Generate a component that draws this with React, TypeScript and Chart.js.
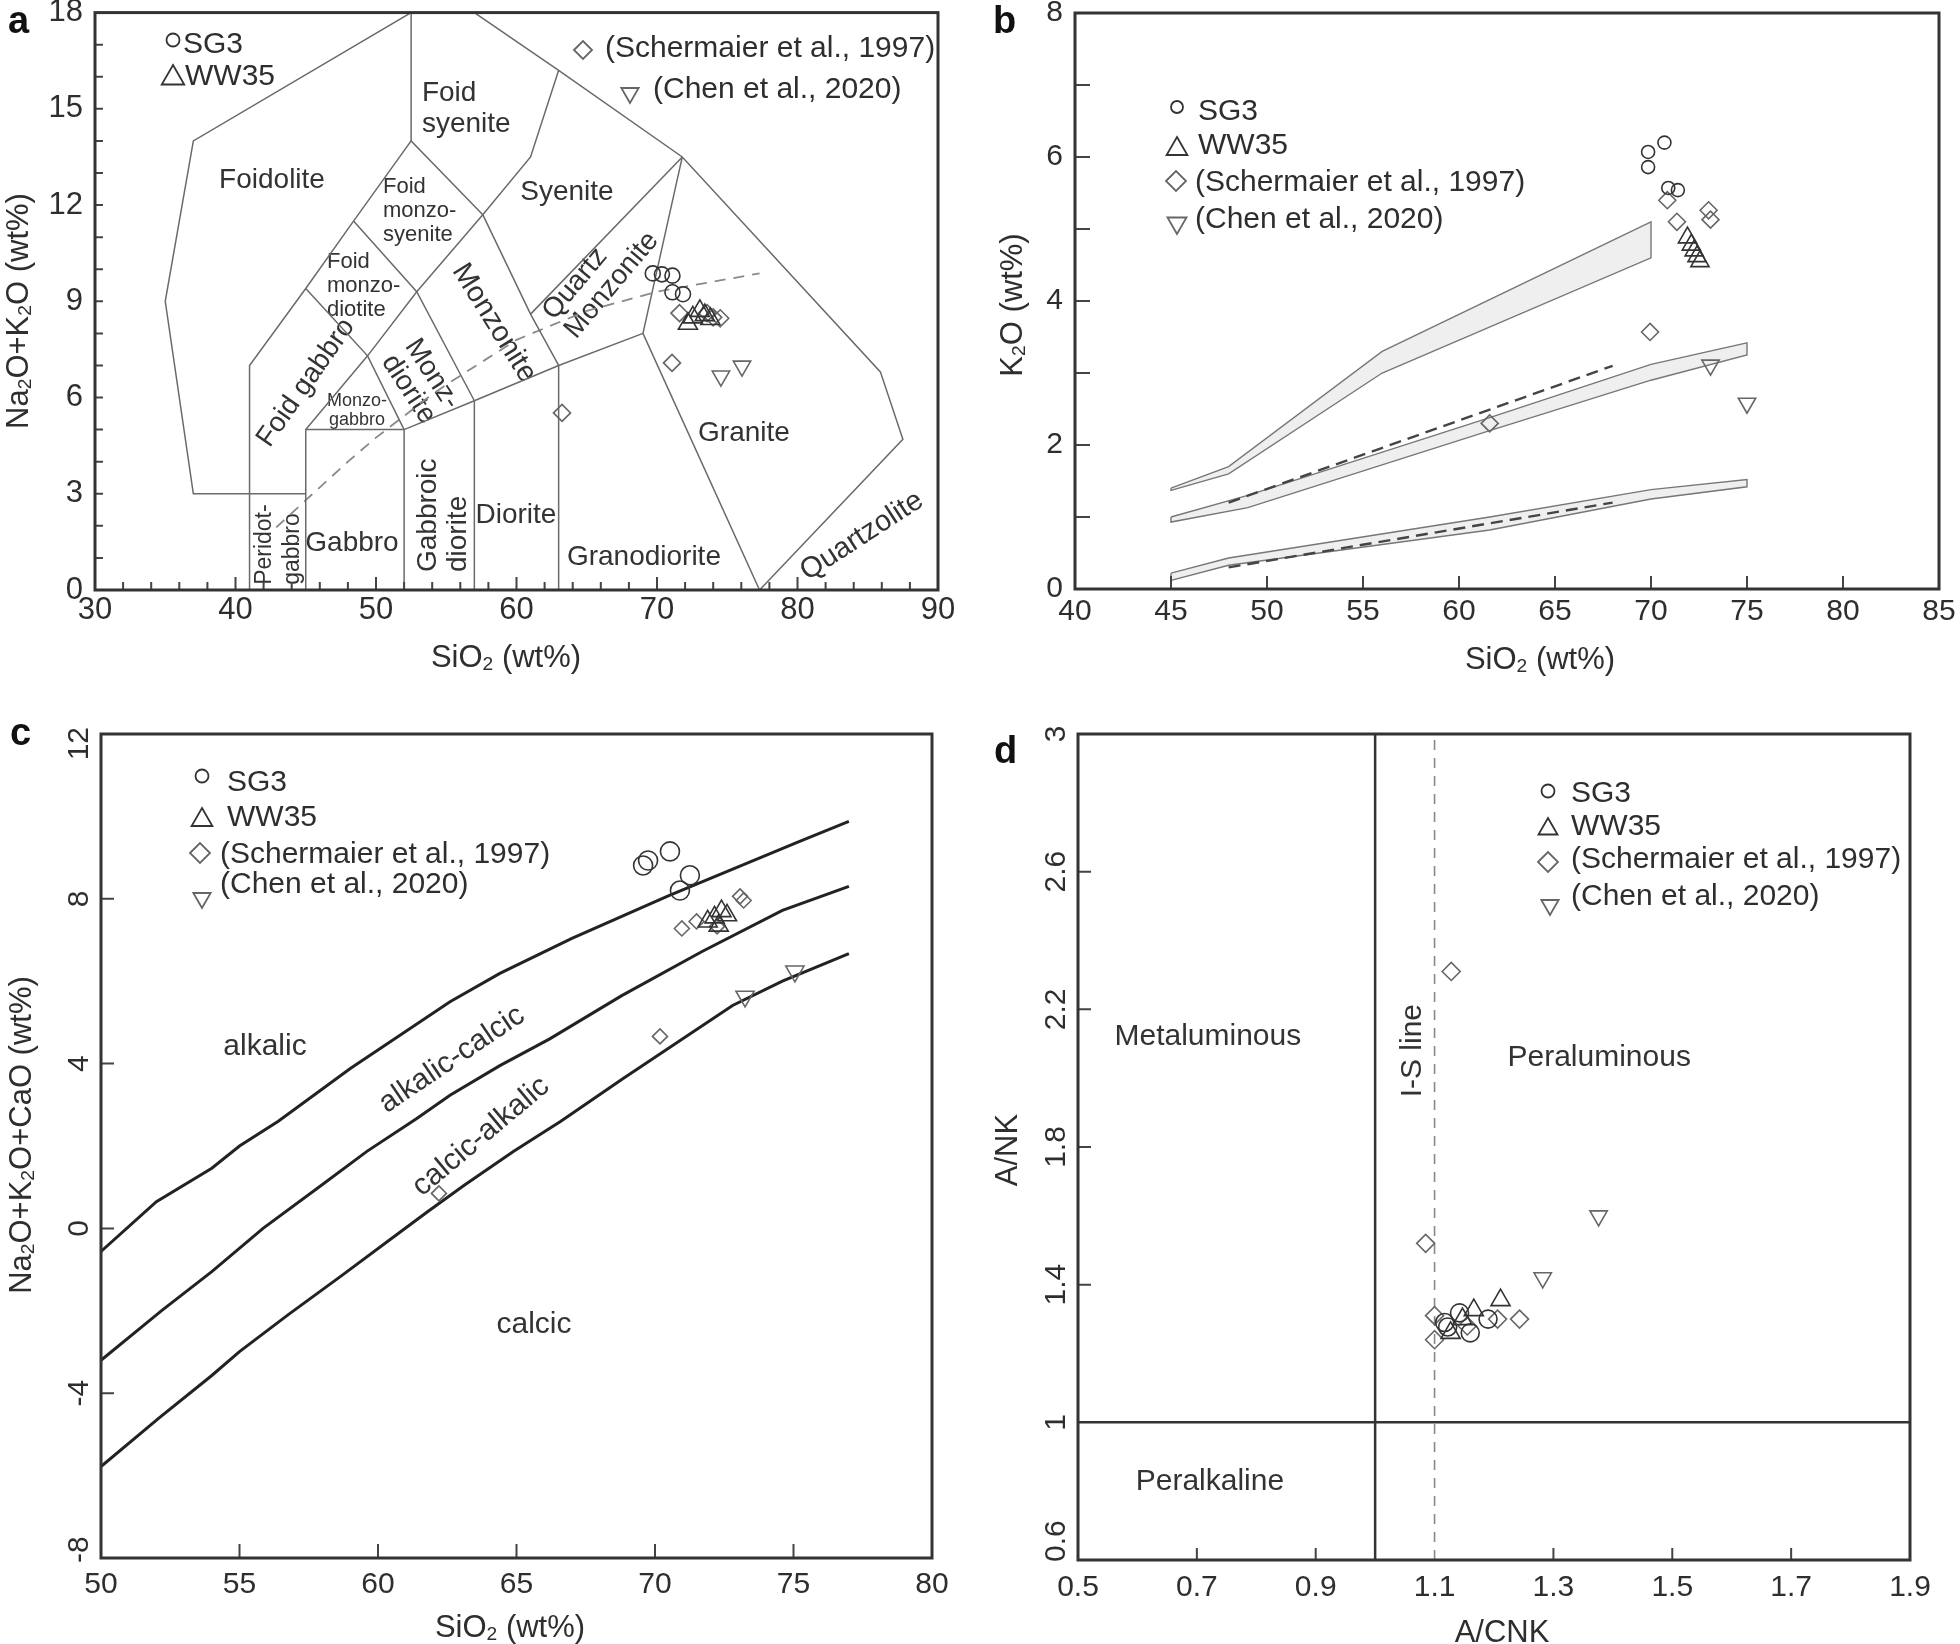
import React, { useEffect, useRef } from 'react';
import { Chart, registerables } from 'chart.js';
import { drawPoint } from 'chart.js/helpers';

Chart.register(...registerables);

const FONT = '"Liberation Sans", Arial, Helvetica, sans-serif';
const TXT = '#2e2e2e';

// ---------------- Panel a: TAS (Middlemost) ----------------
const aFoidolite = [[45, 3], [37, 3], [35, 9], [37, 14], [52.5, 18]];
const aFoidSyeniteLeft = [[52.5, 18], [52.5, 14]];
const aOuterTop = [[57, 18], [63, 16.2], [71.8, 13.5], [85.9, 6.8], [87.5, 4.7], [77.3, 0]];
const aFoidSyeniteRight = [[63, 16.2], [61, 13.5], [57.6, 11.7]];
const aFoidMonzoTop = [[57.6, 11.7], [52.5, 14], [48.4, 11.5], [45, 9.4], [41, 7], [41, 0]];
const aDiagonal1 = [[57.6, 11.7], [52.9, 9.3], [49.4, 7.3], [45, 5], [45, 0]];
const aDiagonal2 = [[48.4, 11.5], [52.9, 9.3], [57, 5.9]];
const aDiagonal3 = [[45, 9.4], [49.4, 7.3], [52, 5]];
const aGabbroTop = [[45, 5], [52, 5], [52, 0]];
const aLowerBoundary = [[52, 5], [57, 5.9], [63, 7], [69, 8]];
const aDioriteRight = [[57, 5.9], [57, 0]];
const aGranodioriteLeft = [[63, 7], [63, 0]];
const aSyeniteBottom = [[57.6, 11.7], [61, 8.6], [63, 7]];
const aQzMonzTop = [[61, 8.6], [71.8, 13.5]];
const aGraniteLeft = [[71.8, 13.5], [69, 8], [77.3, 0]];
const aAlkalineLine = [[42.9, 1.95], [45, 2.8], [48, 4], [50, 4.75], [53.7, 6], [55, 6.4], [60, 7.8], [65, 8.7], [70, 9.3], [77.3, 9.87]];

const aSG3 = [[69.7, 9.87], [70.35, 9.84], [71.1, 9.8], [71.1, 9.28], [71.85, 9.22]];
const aWW35 = [[72.2, 8.3], [72.55, 8.5], [73.05, 8.7], [73.4, 8.57], [73.8, 8.45]];
const aSch = [[71.6, 8.63], [73.56, 8.63], [74.0, 8.5], [74.5, 8.47], [71.07, 7.08], [63.24, 5.52]];
const aChen = [[74.55, 6.67], [76.05, 6.98]];

const aXLabels = [30, 40, 50, 60, 70, 80, 90];
const aYLabels = [0, 3, 6, 9, 12, 15, 18];
const aXMajorTicks = [40, 50, 60, 70, 80];
const aXMinorTicks = [32, 34, 36, 38, 42, 44, 46, 48, 52, 54, 56, 58, 62, 64, 66, 68, 72, 74, 76, 78, 82, 84, 86, 88];
const aYTicks = [1, 2, 3, 4, 5, 6, 7, 8, 9, 10, 11, 12, 13, 14, 15, 16, 17];

// ---------------- Panel b: K2O vs SiO2 ----------------
const bHighUpper = [[45, 1.4], [48, 1.7], [56, 3.3], [70, 5.1]];
const bHighLower = [[45, 1.37], [48, 1.6], [56, 3.0], [70, 4.6]];
const bMidUpper = [[45, 1.0], [49, 1.3], [61.6, 2.38], [70, 3.12], [75, 3.42]];
const bMidLower = [[45, 0.93], [49, 1.13], [61.6, 2.2], [70, 2.9], [75, 3.25]];
const bLowUpper = [[45, 0.22], [48, 0.43], [61.6, 1.0], [70, 1.38], [75, 1.52]];
const bLowLower = [[45, 0.12], [48, 0.33], [61.6, 0.82], [70, 1.25], [75, 1.42]];
const bDash1 = [[48, 1.2], [68, 3.1]];
const bDash2 = [[48, 0.3], [68, 1.2]];

const bSG3 = [[69.85, 6.07], [70.7, 6.2], [69.85, 5.86], [70.9, 5.57], [71.4, 5.54]];
const bWW35 = [[71.9, 4.88], [72.1, 4.78], [72.25, 4.7], [72.4, 4.62], [72.55, 4.55]];
const bSch = [[70.85, 5.4], [71.35, 5.1], [73.0, 5.26], [73.1, 5.13], [69.95, 3.57], [61.6, 2.3]];
const bChen = [[73.1, 3.11], [75.0, 2.58]];

const bXLabels = [40, 45, 50, 55, 60, 65, 70, 75, 80, 85];
const bYLabels = [0, 2, 4, 6, 8];
const bXTicks = [45, 50, 55, 60, 65, 70, 75, 80];
const bYTicks = [1, 2, 3, 4, 5, 6, 7];

// ---------------- Panel c: MALI ----------------
const cTop = [[50, -0.56], [52, 0.65], [54, 1.46], [55, 2.0], [56.4, 2.6], [59, 3.88], [62.6, 5.5], [64.4, 6.19], [67, 7.04], [70.5, 8.08], [75.2, 9.39], [77, 9.88]];
const cMid = [[50, -3.2], [52.2, -1.99], [54, -1.05], [55.85, 0], [57.8, 0.97], [59.6, 1.87], [61.4, 2.67], [62.6, 3.23], [64.4, 3.95], [66.2, 4.6], [68.8, 5.65], [71.7, 6.72], [74.6, 7.72], [77, 8.3]];
const cBot = [[50, -5.78], [52.1, -4.6], [54, -3.57], [55, -2.99], [56.75, -2.1], [58.7, -1.14], [60.5, -0.24], [61.8, 0.41], [63.1, 1.04], [64.9, 1.87], [66.6, 2.6], [68.85, 3.64], [72.8, 5.41], [74.6, 6.0], [77, 6.67]];

const cSG3 = [[69.57, 8.81], [69.75, 8.93], [70.54, 9.15], [70.9, 8.2], [71.26, 8.57]];
const cWW35 = [[71.9, 7.45], [72.15, 7.55], [72.4, 7.7], [72.6, 7.6], [72.3, 7.35]];
const cSch = [[70.97, 7.28], [71.5, 7.45], [72.24, 7.33], [73.07, 8.06], [73.2, 7.96], [70.18, 4.66], [62.2, 0.85]];
const cChen = [[73.25, 5.63], [75.05, 6.24]];

const cXLabels = [50, 55, 60, 65, 70, 75, 80];
const cYLabels = [-8, -4, 0, 4, 8, 12];
const cXTicks = [55, 60, 65, 70, 75];
const cYTicks = [-4, 0, 4, 8];

// ---------------- Panel d: A/NK vs A/CNK ----------------
const dLineH = [[0.5, 1], [1.9, 1]];
const dLineV = [[1, 0.6], [1, 3]];
const dLineIS = [[1.1, 0.6], [1.1, 3]];

const dSG3 = [[1.117, 1.29], [1.142, 1.318], [1.16, 1.26], [1.19, 1.3], [1.122, 1.277]];
const dWW35 = [[1.211, 1.355], [1.166, 1.326], [1.127, 1.26], [1.147, 1.3]];
const dSch = [[1.085, 1.52], [1.128, 2.31], [1.1, 1.31], [1.1, 1.24], [1.206, 1.3], [1.243, 1.3], [1.155, 1.28]];
const dChen = [[1.376, 1.6], [1.282, 1.42]];

const dXLabels = [0.5, 0.7, 0.9, 1.1, 1.3, 1.5, 1.7, 1.9];
const dYLabels = [0.6, 1, 1.4, 1.8, 2.2, 2.6, 3];
const dXTicks = [0.7, 0.9, 1.3, 1.5, 1.7];
const dYTicks = [1.4, 1.8, 2.2, 2.6];

// ---------------- helpers ----------------
const toXY = (arr: number[][]) => arr.map(([x, y]) => ({ x, y }));

const markers = (data: number[][], style: string, r: number, color: string, rot = 0, bw = 1.6) => ({
  data: toXY(data),
  showLine: false,
  pointStyle: style,
  pointRadius: r,
  pointHoverRadius: r,
  pointRotation: rot,
  pointBorderColor: color,
  pointBackgroundColor: 'rgba(0,0,0,0)',
  pointBorderWidth: bw,
  order: 0,
});

const line = (data: number[][], color: string, width: number, dash: number[] = []) => ({
  data: toXY(data),
  showLine: true,
  pointRadius: 0,
  pointHoverRadius: 0,
  borderColor: color,
  borderWidth: width,
  borderDash: dash,
  fill: false,
  tension: 0,
  order: 10,
});

const band = (upper: number[][], lower: number[][]) => ({
  data: toXY([...upper, ...lower.slice().reverse(), upper[0]]),
  showLine: true,
  pointRadius: 0,
  pointHoverRadius: 0,
  borderColor: '#777',
  borderWidth: 1.4,
  backgroundColor: '#efefef',
  fill: 'shape',
  tension: 0,
  order: 10,
});

function drawRich(ctx: CanvasRenderingContext2D, str: string, x: number, y: number, size: number, align: string, color: string, bold = false) {
  const parts: [string, boolean][] = [];
  const re = /_(\d)/g;
  let last = 0;
  let m: RegExpExecArray | null;
  while ((m = re.exec(str))) {
    if (m.index > last) parts.push([str.slice(last, m.index), false]);
    parts.push([m[1], true]);
    last = m.index + 2;
  }
  if (last < str.length) parts.push([str.slice(last), false]);
  const sub = size * 0.62;
  const w = bold ? 'bold ' : '';
  let total = 0;
  const widths = parts.map(([t, s]) => {
    ctx.font = `${w}${s ? sub : size}px ${FONT}`;
    const ww = ctx.measureText(t).width;
    total += ww;
    return ww;
  });
  let sx = align === 'center' ? x - total / 2 : align === 'right' ? x - total : x;
  ctx.textAlign = 'left';
  ctx.textBaseline = 'middle';
  ctx.fillStyle = color;
  parts.forEach(([t, s], i) => {
    ctx.font = `${w}${s ? sub : size}px ${FONT}`;
    ctx.fillText(t, sx, s ? y + size * 0.2 : y);
    sx += widths[i];
  });
  return total;
}

function textWidth(ctx: CanvasRenderingContext2D, str: string, size: number) {
  ctx.font = `${size}px ${FONT}`;
  return ctx.measureText(str).width;
}

type RegionLabel = { lines: string[]; x: number; y: number; size: number; rot?: number; align?: string; lh?: number };
type LegendItem = { style: string; r: number; color: string; rot?: number; mx: number; my: number; text: string; tx: number; ty: number };

type PanelCfg = {
  id: string;
  canvas: { x: number; y: number; w: number; h: number };
  area: { l: number; t: number; r: number; b: number };
  xr: [number, number];
  yr: [number, number];
  datasets: any[];
  labels: RegionLabel[];
  xTicks: { v: number[]; len: number }[];
  yTicks: { v: number[]; len: number }[];
  xLabels: number[];
  yLabels: number[];
  xLabelY: number;
  yLabelX: number;
  yRot: boolean;
  clampTop?: number;
  clampBottom?: number;
  tickSize: number;
  xTitle: { text: string; x: number; y: number };
  yTitle: { text: string; x: number; y: number };
  legend: LegendItem[];
  letter: { text: string; x: number; y: number };
  labelColor: string;
};

const DARK = '#333';
const GREY = '#666';
const BOUND = '#6a6a6a';

const PANELS: PanelCfg[] = [
  {
    id: 'a',
    canvas: { x: 0, y: 0, w: 980, h: 700 },
    area: { l: 95, t: 10, r: 938, b: 590 },
    xr: [30, 90],
    yr: [0, 18],
    datasets: [
      markers(aSG3, 'circle', 7.5, DARK),
      markers(aWW35, 'triangle', 11, DARK),
      markers(aSch, 'rectRot', 8.5, GREY),
      markers(aChen, 'triangle', 10, GREY, 180),
      line(aFoidolite, BOUND, 1.5),
      line(aFoidSyeniteLeft, BOUND, 1.5),
      line(aOuterTop, BOUND, 1.5),
      line(aFoidSyeniteRight, BOUND, 1.5),
      line(aFoidMonzoTop, BOUND, 1.5),
      line(aDiagonal1, BOUND, 1.5),
      line(aDiagonal2, BOUND, 1.5),
      line(aDiagonal3, BOUND, 1.5),
      line(aGabbroTop, BOUND, 1.5),
      line(aLowerBoundary, BOUND, 1.5),
      line(aDioriteRight, BOUND, 1.5),
      line(aGranodioriteLeft, BOUND, 1.5),
      line(aSyeniteBottom, BOUND, 1.5),
      line(aQzMonzTop, BOUND, 1.5),
      line(aGraniteLeft, BOUND, 1.5),
      line(aAlkalineLine, '#8a8a8a', 1.8, [11, 8]),
    ],
    labels: [
      { lines: ['Foidolite'], x: 42.6, y: 12.76, size: 28 },
      { lines: ['Foid', 'syenite'], x: 53.27, y: 15.49, size: 28, align: 'left', lh: 31 },
      { lines: ['Foid', 'monzo-', 'syenite'], x: 50.5, y: 12.57, size: 22, align: 'left', lh: 24 },
      { lines: ['Foid', 'monzo-', 'diotite'], x: 46.51, y: 10.24, size: 22, align: 'left', lh: 24 },
      { lines: ['Foid gabbro'], x: 45.02, y: 6.46, size: 28, rot: -55 },
      { lines: ['Monzo-', 'gabbro'], x: 48.65, y: 5.9, size: 18, lh: 19 },
      { lines: ['Monz-', 'diorite'], x: 53.99, y: 6.73, size: 28, rot: 57, lh: 28 },
      { lines: ['Monzonite'], x: 58.4, y: 8.32, size: 29, rot: 58 },
      { lines: ['Syenite'], x: 63.59, y: 12.41, size: 28 },
      { lines: ['Quartz', 'Monzonite'], x: 62.24, y: 8.54, size: 28, rot: -50, align: 'left', lh: 29 },
      { lines: ['Granite'], x: 76.19, y: 4.9, size: 28 },
      { lines: ['Diorite'], x: 59.96, y: 2.33, size: 28 },
      { lines: ['Granodiorite'], x: 69.07, y: 1.02, size: 28 },
      { lines: ['Quartzolite'], x: 84.59, y: 1.68, size: 29, rot: -33 },
      { lines: ['Gabbro'], x: 48.29, y: 1.46, size: 28 },
      { lines: ['Gabbroic', 'diorite'], x: 53.7, y: 0.56, size: 28, rot: -90, align: 'left', lh: 30 },
      { lines: ['Peridot-', 'gabbro'], x: 42.1, y: 0.16, size: 23, rot: -90, align: 'left', lh: 28 },
    ],
    xTicks: [{ v: aXMajorTicks, len: 13 }, { v: aXMinorTicks, len: 8 }],
    yTicks: [{ v: aYTicks, len: 8 }],
    xLabels: aXLabels,
    yLabels: aYLabels,
    xLabelY: 610,
    yLabelX: 83,
    yRot: false,
    tickSize: 31,
    xTitle: { text: 'SiO_2 (wt%)', x: 506, y: 658 },
    yTitle: { text: 'Na_2O+K_2O (wt%)', x: 19, y: 311 },
    legend: [
      { style: 'circle', r: 6.5, color: DARK, mx: 173, my: 40, text: 'SG3', tx: 183, ty: 45 },
      { style: 'triangle', r: 13, color: DARK, mx: 173, my: 78, text: 'WW35', tx: 185, ty: 77 },
      { style: 'rectRot', r: 9, color: GREY, mx: 583, my: 50, text: '(Schermaier et al., 1997)', tx: 605, ty: 49 },
      { style: 'triangle', r: 10, rot: 180, color: GREY, mx: 630, my: 93, text: '(Chen et al., 2020)', tx: 653, ty: 90 },
    ],
    letter: { text: 'a', x: 8, y: 33 },
    labelColor: '#333',
  },
  {
    id: 'b',
    canvas: { x: 980, y: 0, w: 980, h: 700 },
    area: { l: 1075, t: 13, r: 1939, b: 589 },
    xr: [40, 85],
    yr: [0, 8],
    datasets: [
      markers(bSG3, 'circle', 6.5, DARK),
      markers(bWW35, 'triangle', 10.5, DARK),
      markers(bSch, 'rectRot', 8.5, GREY),
      markers(bChen, 'triangle', 10, GREY, 180),
      line(bDash1, '#444', 2.4, [12, 7]),
      line(bDash2, '#444', 2.4, [12, 7]),
      band(bHighUpper, bHighLower),
      band(bMidUpper, bMidLower),
      band(bLowUpper, bLowLower),
    ],
    labels: [],
    xTicks: [{ v: bXTicks, len: 13 }],
    yTicks: [{ v: bYTicks, len: 15 }],
    xLabels: bXLabels,
    yLabels: bYLabels,
    xLabelY: 612,
    yLabelX: 1063,
    yRot: false,
    tickSize: 30,
    xTitle: { text: 'SiO_2 (wt%)', x: 1540, y: 660 },
    yTitle: { text: 'K_2O (wt%)', x: 1013, y: 305 },
    legend: [
      { style: 'circle', r: 6, color: DARK, mx: 1177, my: 107, text: 'SG3', tx: 1198, ty: 112 },
      { style: 'triangle', r: 12, color: DARK, mx: 1177, my: 149, text: 'WW35', tx: 1198, ty: 146 },
      { style: 'rectRot', r: 10, color: GREY, mx: 1176, my: 181, text: '(Schermaier et al., 1997)', tx: 1195, ty: 183 },
      { style: 'triangle', r: 11, rot: 180, color: GREY, mx: 1177, my: 223, text: '(Chen et al., 2020)', tx: 1195, ty: 220 },
    ],
    letter: { text: 'b', x: 993, y: 33 },
    labelColor: '#333',
  },
  {
    id: 'c',
    canvas: { x: 0, y: 700, w: 980, h: 944 },
    area: { l: 101, t: 734, r: 932, b: 1558 },
    xr: [50, 80],
    yr: [-8, 12],
    datasets: [
      markers(cSG3, 'circle', 9.5, DARK),
      markers(cWW35, 'triangle', 11, DARK),
      markers(cSch, 'rectRot', 7.5, GREY),
      markers(cChen, 'triangle', 10.5, GREY, 180),
      line(cTop, '#222', 3),
      line(cMid, '#222', 3),
      line(cBot, '#222', 3),
    ],
    labels: [
      { lines: ['alkalic'], x: 55.92, y: 4.42, size: 30 },
      { lines: ['alkalic-calcic'], x: 62.67, y: 4.1, size: 30, rot: -34 },
      { lines: ['calcic-alkalic'], x: 63.72, y: 2.23, size: 30, rot: -40 },
      { lines: ['calcic'], x: 65.63, y: -2.35, size: 30 },
    ],
    xTicks: [{ v: cXTicks, len: 14 }],
    yTicks: [{ v: cYTicks, len: 13 }],
    xLabels: cXLabels,
    yLabels: cYLabels,
    xLabelY: 1585,
    yLabelX: 80,
    yRot: true,
    clampTop: 727,
    clampBottom: 1563,
    tickSize: 30,
    xTitle: { text: 'SiO_2 (wt%)', x: 510, y: 1628 },
    yTitle: { text: 'Na_2O+K_2O+CaO (wt%)', x: 22, y: 1135 },
    legend: [
      { style: 'circle', r: 6.5, color: DARK, mx: 202, my: 776, text: 'SG3', tx: 227, ty: 783 },
      { style: 'triangle', r: 12, color: DARK, mx: 202, my: 820, text: 'WW35', tx: 227, ty: 818 },
      { style: 'rectRot', r: 10, color: GREY, mx: 200, my: 853, text: '(Schermaier et al., 1997)', tx: 220, ty: 855 },
      { style: 'triangle', r: 10, rot: 180, color: GREY, mx: 202, my: 898, text: '(Chen et al., 2020)', tx: 220, ty: 885 },
    ],
    letter: { text: 'c', x: 10, y: 745 },
    labelColor: '#333',
  },
  {
    id: 'd',
    canvas: { x: 980, y: 700, w: 980, h: 944 },
    area: { l: 1078, t: 734, r: 1910, b: 1560 },
    xr: [0.5, 1.9],
    yr: [0.6, 3],
    datasets: [
      markers(dSG3, 'circle', 9, DARK),
      markers(dWW35, 'triangle', 11, DARK),
      markers(dSch, 'rectRot', 9, GREY),
      markers(dChen, 'triangle', 10, GREY, 180),
      line(dLineH, '#333', 2.5),
      line(dLineV, '#333', 2.5),
      line(dLineIS, '#888', 1.6, [10, 8]),
    ],
    labels: [
      { lines: ['Metaluminous'], x: 0.7185, y: 2.12, size: 30 },
      { lines: ['Peraluminous'], x: 1.377, y: 2.06, size: 30 },
      { lines: ['Peralkaline'], x: 0.722, y: 0.827, size: 30 },
      { lines: ['I-S line'], x: 1.063, y: 2.08, size: 30, rot: -90 },
    ],
    xTicks: [{ v: dXTicks, len: 12 }],
    yTicks: [{ v: dYTicks, len: 13 }],
    xLabels: dXLabels,
    yLabels: dYLabels,
    xLabelY: 1588,
    yLabelX: 1057,
    yRot: true,
    clampTop: 724,
    clampBottom: 1562,
    tickSize: 30,
    xTitle: { text: 'A/CNK', x: 1502, y: 1633 },
    yTitle: { text: 'A/NK', x: 1008, y: 1150 },
    legend: [
      { style: 'circle', r: 6.5, color: DARK, mx: 1548, my: 791, text: 'SG3', tx: 1571, ty: 794 },
      { style: 'triangle', r: 11, color: DARK, mx: 1548, my: 829, text: 'WW35', tx: 1571, ty: 827 },
      { style: 'rectRot', r: 10, color: GREY, mx: 1548, my: 862, text: '(Schermaier et al., 1997)', tx: 1571, ty: 860 },
      { style: 'triangle', r: 10, rot: 180, color: GREY, mx: 1550, my: 905, text: '(Chen et al., 2020)', tx: 1571, ty: 897 },
    ],
    letter: { text: 'd', x: 994, y: 763 },
    labelColor: '#333',
  },
];

function makePlugin(cfg: PanelCfg) {
  return {
    id: 'deco_' + cfg.id,
    beforeDatasetsDraw(chart: any) {
      const ctx: CanvasRenderingContext2D = chart.ctx;
      const xs = chart.scales.x;
      const ys = chart.scales.y;
      cfg.labels.forEach((l) => {
        const px = xs.getPixelForValue(l.x);
        const py = ys.getPixelForValue(l.y);
        ctx.save();
        ctx.translate(px, py);
        if (l.rot) ctx.rotate((l.rot * Math.PI) / 180);
        const lh = l.lh ?? l.size * 1.1;
        l.lines.forEach((t, i) => drawRich(ctx, t, 0, i * lh, l.size, l.align ?? 'center', cfg.labelColor));
        ctx.restore();
      });
    },
    afterDatasetsDraw(chart: any) {
      const ctx: CanvasRenderingContext2D = chart.ctx;
      const xs = chart.scales.x;
      const ys = chart.scales.y;
      const a = chart.chartArea;
      const ox = cfg.canvas.x;
      const oy = cfg.canvas.y;
      ctx.save();
      // inside tick marks
      ctx.strokeStyle = '#444';
      ctx.lineWidth = 2;
      ctx.setLineDash([]);
      ctx.beginPath();
      cfg.xTicks.forEach((g) =>
        g.v.forEach((v) => {
          const px = xs.getPixelForValue(v);
          ctx.moveTo(px, a.bottom);
          ctx.lineTo(px, a.bottom - g.len);
        })
      );
      cfg.yTicks.forEach((g) =>
        g.v.forEach((v) => {
          const py = ys.getPixelForValue(v);
          ctx.moveTo(a.left, py);
          ctx.lineTo(a.left + g.len, py);
        })
      );
      ctx.stroke();
      // frame
      ctx.strokeStyle = '#333';
      ctx.lineWidth = 3;
      ctx.strokeRect(a.left, a.top, a.right - a.left, a.bottom - a.top);
      // tick labels
      cfg.xLabels.forEach((v) => {
        drawRich(ctx, String(v), xs.getPixelForValue(v), cfg.xLabelY - oy, cfg.tickSize, 'center', TXT);
      });
      cfg.yLabels.forEach((v) => {
        const py = ys.getPixelForValue(v);
        const s = String(v);
        if (!cfg.yRot) {
          drawRich(ctx, s, cfg.yLabelX - ox, py, cfg.tickSize, 'right', TXT);
        } else {
          const w = textWidth(ctx, s, cfg.tickSize);
          let c = py;
          if (cfg.clampTop !== undefined && c - w / 2 < cfg.clampTop - oy) c = cfg.clampTop - oy + w / 2;
          if (cfg.clampBottom !== undefined && c + w / 2 > cfg.clampBottom - oy) c = cfg.clampBottom - oy - w / 2;
          ctx.save();
          ctx.translate(cfg.yLabelX - ox, c);
          ctx.rotate(-Math.PI / 2);
          drawRich(ctx, s, 0, 0, cfg.tickSize, 'center', TXT);
          ctx.restore();
        }
      });
      // axis titles
      drawRich(ctx, cfg.xTitle.text, cfg.xTitle.x - ox, cfg.xTitle.y - oy, 31, 'center', TXT);
      ctx.save();
      ctx.translate(cfg.yTitle.x - ox, cfg.yTitle.y - oy);
      ctx.rotate(-Math.PI / 2);
      drawRich(ctx, cfg.yTitle.text, 0, 0, 31, 'center', TXT);
      ctx.restore();
      // legend
      cfg.legend.forEach((it) => {
        ctx.save();
        ctx.strokeStyle = it.color;
        ctx.fillStyle = 'rgba(0,0,0,0)';
        ctx.lineWidth = 1.8;
        drawPoint(ctx, { pointStyle: it.style, rotation: it.rot ?? 0, radius: it.r, borderWidth: 1.8 } as any, it.mx - ox, it.my - oy);
        ctx.restore();
        drawRich(ctx, it.text, it.tx - ox, it.ty - oy, 30, 'left', TXT);
      });
      // panel letter
      ctx.font = `bold 38px ${FONT}`;
      ctx.fillStyle = '#111';
      ctx.textAlign = 'left';
      ctx.textBaseline = 'alphabetic';
      ctx.fillText(cfg.letter.text, cfg.letter.x - ox, cfg.letter.y - oy);
      ctx.restore();
    },
  };
}

function Panel({ cfg }: { cfg: PanelCfg }) {
  const ref = useRef<HTMLCanvasElement>(null);
  useEffect(() => {
    const c = cfg.canvas;
    const chart = new Chart(ref.current as HTMLCanvasElement, {
      type: 'scatter',
      data: { datasets: cfg.datasets.map((d) => ({ ...d })) },
      options: {
        animation: false,
        responsive: false,
        maintainAspectRatio: false,
        devicePixelRatio: 1,
        events: [],
        layout: {
          padding: {
            left: cfg.area.l - c.x,
            top: cfg.area.t - c.y,
            right: c.x + c.w - cfg.area.r,
            bottom: c.y + c.h - cfg.area.b,
          },
        },
        scales: {
          x: { type: 'linear', min: cfg.xr[0], max: cfg.xr[1], display: false },
          y: { type: 'linear', min: cfg.yr[0], max: cfg.yr[1], display: false },
        },
        plugins: { legend: { display: false }, tooltip: { enabled: false } },
      } as any,
      plugins: [makePlugin(cfg)],
    });
    return () => chart.destroy();
  }, [cfg]);
  const c = cfg.canvas;
  return (
    <canvas
      ref={ref}
      width={c.w}
      height={c.h}
      style={{ position: 'absolute', left: c.x, top: c.y, width: c.w, height: c.h }}
    />
  );
}

export default function App() {
  return (
    <div style={{ position: 'absolute', left: 0, top: 0, width: 1960, height: 1644, background: '#ffffff' }}>
      {PANELS.map((p) => (
        <Panel key={p.id} cfg={p} />
      ))}
    </div>
  );
}
